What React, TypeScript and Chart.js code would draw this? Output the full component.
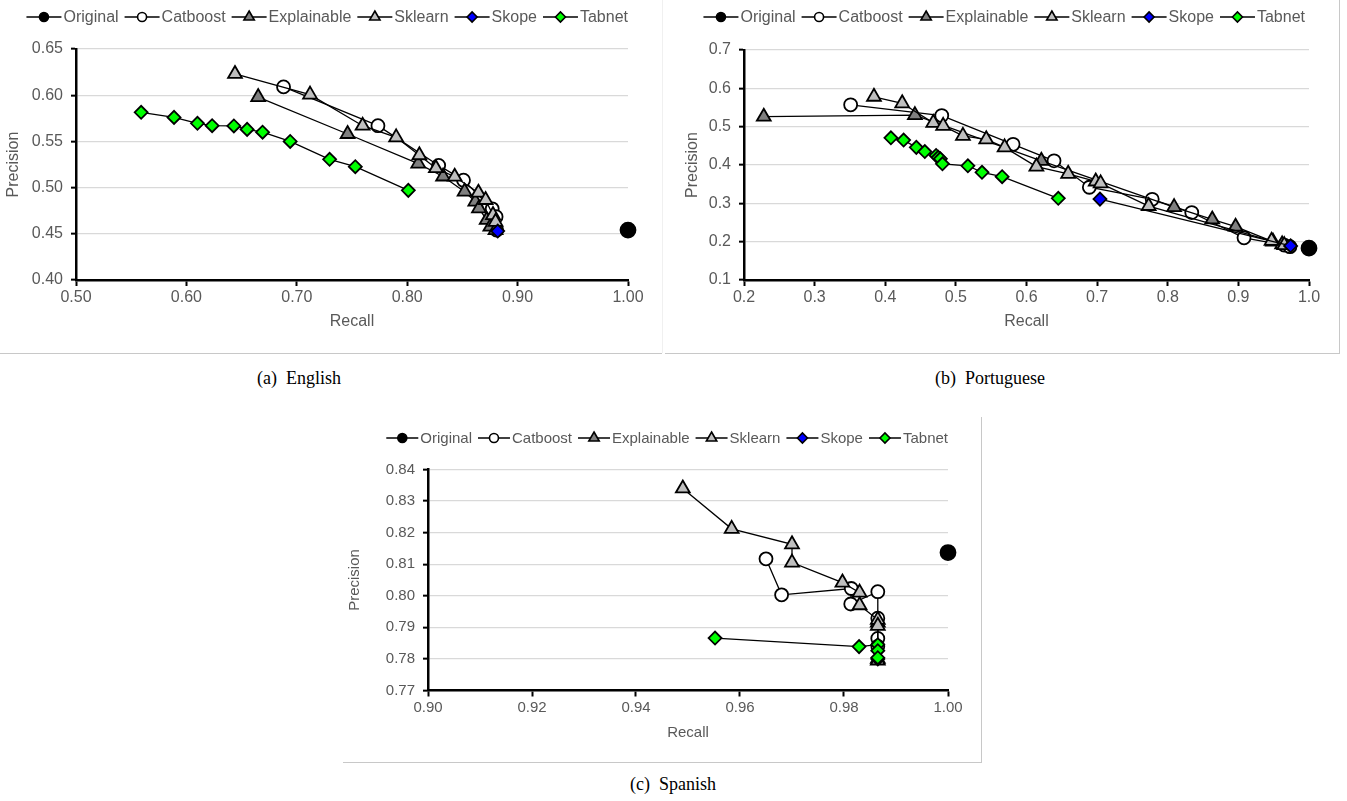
import React, { useEffect, useRef } from 'react';
import { Chart, registerables } from 'chart.js';

Chart.register(...registerables);

type Pt = [number, number];

const seriesNames = ['Original', 'Catboost', 'Explainable', 'Sklearn', 'Skope', 'Tabnet'];

// (a) English — [recall, precision]
const enOriginal: Pt[] = [[1.0, 0.454]];
const enCatboost: Pt[] = [[0.688, 0.609], [0.7735, 0.567], [0.8285, 0.524], [0.851, 0.508], [0.877, 0.477], [0.8805, 0.4685], [0.881, 0.454]];
const enExplainable: Pt[] = [[0.665, 0.598], [0.746, 0.558], [0.81, 0.526], [0.8325, 0.512], [0.852, 0.4956], [0.8617, 0.4848], [0.865, 0.4776], [0.872, 0.465], [0.8753, 0.4577], [0.88, 0.454]];
const enSklearn: Pt[] = [[0.644, 0.623], [0.712, 0.6006], [0.7596, 0.567], [0.79, 0.5544], [0.811, 0.535], [0.826, 0.521], [0.843, 0.5118], [0.8645, 0.4945], [0.871, 0.4866], [0.8777, 0.4703], [0.88, 0.463]];
const enSkope: Pt[] = [[0.882, 0.453]];
const enTabnet: Pt[] = [[0.559, 0.5815], [0.5888, 0.576], [0.61, 0.5696], [0.6233, 0.567], [0.643, 0.5667], [0.655, 0.563], [0.669, 0.56], [0.694, 0.55], [0.7297, 0.5306], [0.753, 0.5226], [0.801, 0.497]];
const enXTicks = [0.5, 0.6, 0.7, 0.8, 0.9, 1.0];
const enYTicks = [0.4, 0.45, 0.5, 0.55, 0.6, 0.65];

// (b) Portuguese
const ptOriginal: Pt[] = [[1.0, 0.183]];
const ptCatboost: Pt[] = [[0.351, 0.557], [0.48, 0.529], [0.581, 0.454], [0.639, 0.411], [0.689, 0.342], [0.778, 0.3105], [0.834, 0.276], [0.908, 0.21], [0.965, 0.191], [0.973, 0.187]];
const ptExplainable: Pt[] = [[0.228, 0.526], [0.442, 0.53], [0.621, 0.411], [0.809, 0.29], [0.863, 0.258], [0.896, 0.239], [0.949, 0.2], [0.962, 0.193]];
const ptSklearn: Pt[] = [[0.384, 0.578], [0.424, 0.561], [0.468, 0.51], [0.482, 0.502], [0.51, 0.476], [0.543, 0.467], [0.569, 0.446], [0.614, 0.396], [0.659, 0.377], [0.698, 0.357], [0.705, 0.352], [0.773, 0.293], [0.947, 0.202], [0.965, 0.191]];
const ptSkope: Pt[] = [[0.704, 0.311], [0.974, 0.189]];
const ptTabnet: Pt[] = [[0.408, 0.471], [0.426, 0.465], [0.444, 0.446], [0.456, 0.435], [0.472, 0.425], [0.475, 0.42], [0.478, 0.416], [0.481, 0.403], [0.517, 0.398], [0.537, 0.381], [0.5655, 0.3695], [0.645, 0.313]];
const ptXTicks = [0.2, 0.3, 0.4, 0.5, 0.6, 0.7, 0.8, 0.9, 1.0];
const ptYTicks = [0.1, 0.2, 0.3, 0.4, 0.5, 0.6, 0.7];

// (c) Spanish
const esOriginal: Pt[] = [[1.0, 0.8137]];
const esCatboost: Pt[] = [[0.965, 0.8117], [0.968, 0.8003], [0.9814, 0.8023], [0.9813, 0.7974], [0.9865, 0.8013], [0.9865, 0.7929], [0.9865, 0.7865], [0.9865, 0.784]];
const esExplainable: Pt[] = [[0.9865, 0.7915], [0.9865, 0.78]];
const esSklearn: Pt[] = [[0.949, 0.834], [0.9584, 0.8212], [0.97, 0.8163], [0.97, 0.8105], [0.9797, 0.8042], [0.983, 0.801], [0.983, 0.797], [0.9865, 0.7924], [0.9865, 0.7905], [0.9865, 0.7795]];
const esSkope: Pt[] = [[0.9865, 0.78]];
const esTabnet: Pt[] = [[0.9552, 0.7866], [0.9829, 0.7839], [0.9865, 0.7845], [0.9865, 0.7826], [0.9865, 0.7804]];
const esXTicks = [0.9, 0.92, 0.94, 0.96, 0.98, 1.0];
const esYTicks = [0.77, 0.78, 0.79, 0.8, 0.81, 0.82, 0.83, 0.84];

const FONT = "'Liberation Sans', Arial, sans-serif";
const TEXT = '#595959';

const styles = [
  { shape: 'circle', fill: '#000000', radius: 7.5, legendR: 4.5 },
  { shape: 'circle', fill: '#ffffff', radius: 6.5, legendR: 4.5 },
  { shape: 'triangle', fill: '#7f7f7f', radius: 8, legendR: 6 },
  { shape: 'triangle', fill: '#bfbfbf', radius: 8, legendR: 6 },
  { shape: 'rectRot', fill: '#0000ff', radius: 6.5, legendR: 5 },
  { shape: 'rectRot', fill: '#00ff00', radius: 6.5, legendR: 5 },
];

function drawMarker(ctx: CanvasRenderingContext2D, shape: string, x: number, y: number, r: number, fill: string) {
  ctx.beginPath();
  if (shape === 'circle') {
    ctx.arc(x, y, r, 0, Math.PI * 2);
  } else if (shape === 'triangle') {
    ctx.moveTo(x, y - r);
    ctx.lineTo(x + 0.866 * r, y + 0.5 * r);
    ctx.lineTo(x - 0.866 * r, y + 0.5 * r);
    ctx.closePath();
  } else {
    ctx.moveTo(x - r, y);
    ctx.lineTo(x, y - r);
    ctx.lineTo(x + r, y);
    ctx.lineTo(x, y + r);
    ctx.closePath();
  }
  ctx.fillStyle = fill;
  ctx.fill();
  ctx.lineWidth = 1.6;
  ctx.strokeStyle = '#000';
  ctx.stroke();
}

const legendPlugin = {
  id: 'customLegend',
  afterDraw(chart: any, _args: any, opts: any) {
    const { ctx, chartArea } = chart;
    const y = opts.y;
    ctx.save();
    ctx.font = `${opts.fontSize}px ${FONT}`;
    const lineLen = opts.lineLen, gapText = 2, gapItem = 6;
    const widths = seriesNames.map((n) => lineLen + gapText + ctx.measureText(n).width);
    const total = widths.reduce((a, b) => a + b, 0) + gapItem * (widths.length - 1);
    let x = chartArea.right + opts.rightShift - total;
    seriesNames.forEach((name, i) => {
      ctx.strokeStyle = '#000';
      ctx.lineWidth = 1.5;
      ctx.beginPath();
      ctx.moveTo(x, y);
      ctx.lineTo(x + lineLen, y);
      ctx.stroke();
      drawMarker(ctx, styles[i].shape, x + lineLen / 2, y, styles[i].legendR, styles[i].fill);
      ctx.fillStyle = TEXT;
      ctx.textBaseline = 'middle';
      ctx.textAlign = 'left';
      ctx.fillText(name, x + lineLen + gapText, y + 1);
      x += widths[i] + gapItem;
    });
    ctx.restore();
  },
};

interface PanelSpec {
  series: Pt[][];
  xTicks: number[];
  yTicks: number[];
  decimals: number;
  W: number;
  H: number;
  area: { l: number; r: number; t: number; b: number };
  legendY: number;
  legendLine: number;
  legendShift: number;
  fontSize: number;
  yTitlePad: number;
  xTitlePad: number;
}

function makeConfig(p: PanelSpec): any {
  const datasets = p.series.map((data, i) => ({
    label: seriesNames[i],
    data: data.map(([x, y]) => ({ x, y })),
    showLine: true,
    borderColor: '#000',
    borderWidth: 1.3,
    pointStyle: styles[i].shape,
    pointRadius: styles[i].radius,
    pointHoverRadius: styles[i].radius,
    pointBackgroundColor: styles[i].fill,
    pointBorderColor: '#000',
    pointBorderWidth: 1.8,
    clip: false,
    order: 10 - i,
    tension: 0,
  }));
  const tickFont = { family: FONT, size: p.fontSize };
  const fmt = (v: any) => Number(v).toFixed(p.decimals);
  return {
    type: 'scatter',
    data: { datasets },
    options: {
      animation: false,
      responsive: false,
      maintainAspectRatio: false,
      devicePixelRatio: 1,
      events: [],
      layout: { padding: { left: 0, top: p.area.t, right: p.W - p.area.r, bottom: 0 } },
      plugins: {
        legend: { display: false },
        tooltip: { enabled: false },
        customLegend: { y: p.legendY, fontSize: p.fontSize, lineLen: p.legendLine, rightShift: p.legendShift },
      },
      scales: {
        x: {
          type: 'linear',
          min: p.xTicks[0],
          max: p.xTicks[p.xTicks.length - 1],
          afterBuildTicks: (s: any) => {
            s.ticks = p.xTicks.map((v) => ({ value: v }));
          },
          ticks: { callback: fmt, color: TEXT, font: tickFont, padding: 2, maxRotation: 0, autoSkip: false },
          grid: { drawOnChartArea: false, drawTicks: true, tickLength: 6, tickColor: '#000', tickWidth: 2 },
          border: { display: true, color: '#000', width: 2.5 },
          title: { display: true, text: 'Recall', color: TEXT, font: tickFont, padding: { top: 0, bottom: p.xTitlePad } },
          afterFit: (s: any) => {
            s.height = p.H - p.area.b;
          },
        },
        y: {
          type: 'linear',
          min: p.yTicks[0],
          max: p.yTicks[p.yTicks.length - 1],
          afterBuildTicks: (s: any) => {
            s.ticks = p.yTicks.map((v) => ({ value: v }));
          },
          ticks: { callback: fmt, color: TEXT, font: tickFont, padding: 8, autoSkip: false },
          grid: { color: '#d9d9d9', lineWidth: 1.3, drawTicks: true, tickLength: 5, tickColor: '#000', tickWidth: 2 },
          border: { display: true, color: '#000', width: 2.5 },
          title: { display: true, text: 'Precision', color: TEXT, font: tickFont, padding: { top: p.yTitlePad, bottom: 0 } },
          afterFit: (s: any) => {
            s.width = p.area.l;
          },
        },
      },
    },
    plugins: [legendPlugin],
  };
}

const enSpec: PanelSpec = {
  series: [enOriginal, enCatboost, enExplainable, enSklearn, enSkope, enTabnet],
  xTicks: enXTicks,
  yTicks: enYTicks,
  decimals: 2,
  W: 662,
  H: 353,
  area: { l: 76, r: 628, t: 49, b: 280 },
  legendY: 17,
  legendLine: 35,
  legendShift: 0,
  fontSize: 16,
  yTitlePad: 4.4,
  xTitlePad: 21.4,
};

const ptSpec: PanelSpec = {
  series: [ptOriginal, ptCatboost, ptExplainable, ptSklearn, ptSkope, ptTabnet],
  xTicks: ptXTicks,
  yTicks: ptYTicks,
  decimals: 1,
  W: 674,
  H: 353,
  area: { l: 79, r: 644, t: 50, b: 280 },
  legendY: 17,
  legendLine: 35,
  legendShift: -4,
  fontSize: 16,
  yTitlePad: 18.4,
  xTitlePad: 21.4,
};

const esSpec: PanelSpec = {
  series: [esOriginal, esCatboost, esExplainable, esSklearn, esSkope, esTabnet],
  xTicks: esXTicks,
  yTicks: esYTicks,
  decimals: 2,
  W: 638,
  H: 367,
  area: { l: 85, r: 605, t: 74.5, b: 295.5 },
  legendY: 43,
  legendLine: 32,
  legendShift: 0,
  fontSize: 15,
  yTitlePad: 3,
  xTitlePad: 20,
};

function ChartPanel({ spec, left, top }: { spec: PanelSpec; left: number; top: number }) {
  const ref = useRef<HTMLCanvasElement>(null);
  useEffect(() => {
    const chart = new Chart(ref.current as HTMLCanvasElement, makeConfig(spec));
    return () => chart.destroy();
  }, [spec]);
  return (
    <canvas
      ref={ref}
      width={spec.W}
      height={spec.H}
      style={{ position: 'absolute', left, top, width: spec.W, height: spec.H }}
    />
  );
}

const captionStyle: React.CSSProperties = {
  position: 'absolute',
  transform: 'translateX(-50%)',
  fontFamily: "'Liberation Serif', 'Times New Roman', serif",
  fontSize: 18,
  color: '#000',
  whiteSpace: 'nowrap',
  lineHeight: '22px',
};

export default function App() {
  return (
    <div style={{ position: 'absolute', left: 0, top: 0, width: 1347, height: 801, overflow: 'hidden', background: '#fff' }}>
      <ChartPanel spec={enSpec} left={0} top={0} />
      <ChartPanel spec={ptSpec} left={665} top={0} />
      <ChartPanel spec={esSpec} left={343} top={395} />
      {/* panel borders */}
      <div style={{ position: 'absolute', left: 0, top: 353, width: 662, height: 1, background: '#c8c8c8' }} />
      <div style={{ position: 'absolute', left: 662, top: 0, width: 1, height: 353, background: '#f0f0f0' }} />
      <div style={{ position: 'absolute', left: 665, top: 353, width: 675, height: 1, background: '#c8c8c8' }} />
      <div style={{ position: 'absolute', left: 1339, top: 0, width: 1, height: 354, background: '#c8c8c8' }} />
      <div style={{ position: 'absolute', left: 343, top: 762, width: 639, height: 1, background: '#c8c8c8' }} />
      <div style={{ position: 'absolute', left: 981, top: 417, width: 1, height: 346, background: '#c8c8c8' }} />
      {/* captions */}
      <div style={{ ...captionStyle, left: 299, top: 367 }}>(a)&nbsp; English</div>
      <div style={{ ...captionStyle, left: 990, top: 367 }}>(b)&nbsp; Portuguese</div>
      <div style={{ ...captionStyle, left: 673, top: 773 }}>(c)&nbsp; Spanish</div>
    </div>
  );
}
